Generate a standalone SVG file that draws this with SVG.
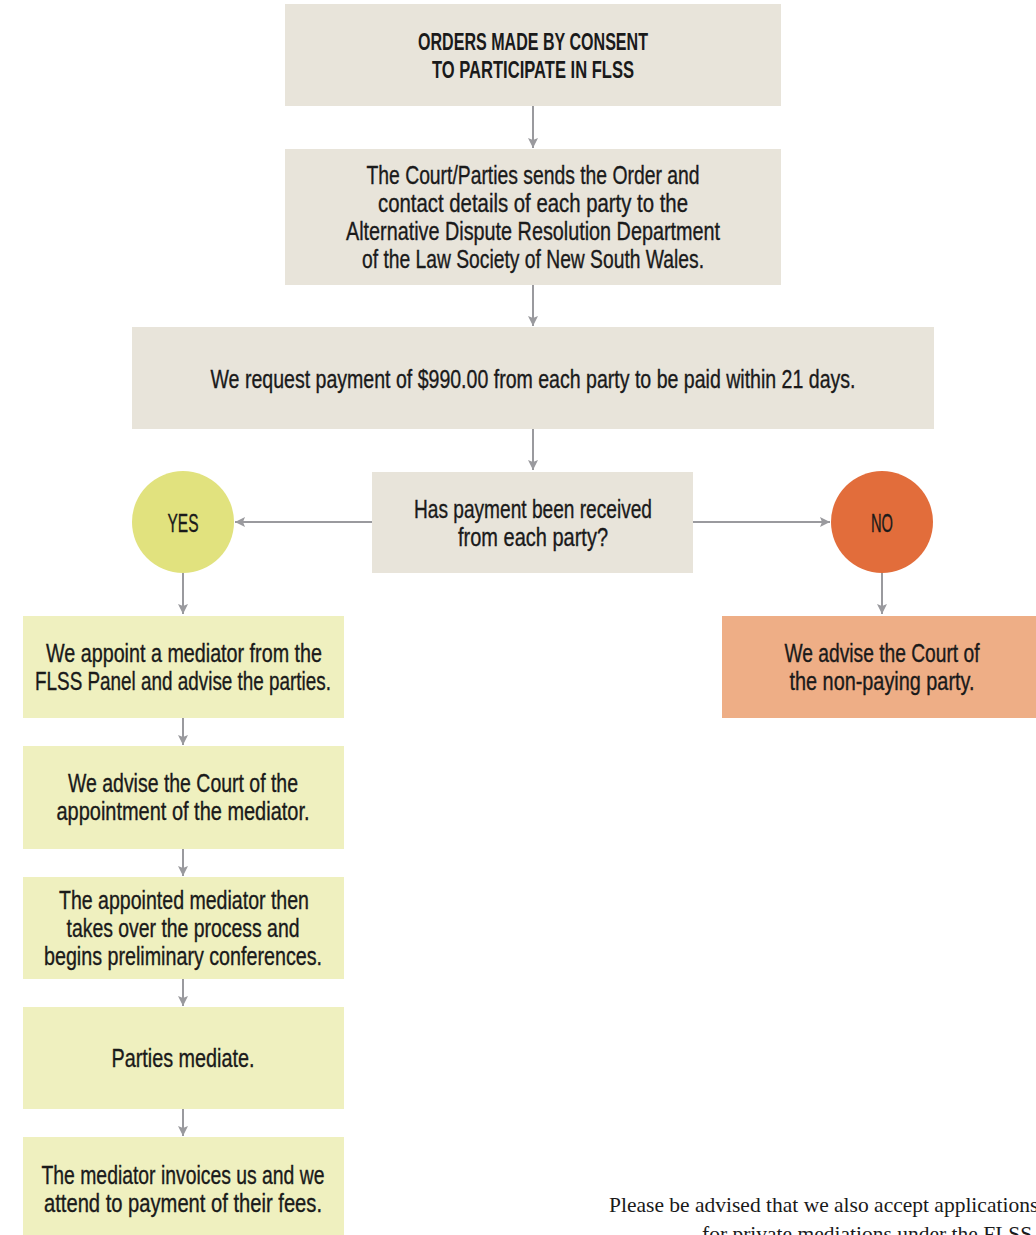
<svg xmlns="http://www.w3.org/2000/svg" width="1036" height="1235" viewBox="0 0 1036 1235">
<defs>
<marker id="ah" viewBox="0 0 10 10" refX="10" refY="5" markerWidth="10" markerHeight="10" markerUnits="userSpaceOnUse" orient="auto">
<path d="M0,0 L10,5 L0,10 L2,5 Z" fill="#9a9a9e"/>
</marker>
</defs>
<style>
.t{font-family:"Liberation Sans",Arial,sans-serif;font-size:25px;fill:#1a1a1a;stroke:#1a1a1a;stroke-width:0.35;text-anchor:middle;dominant-baseline:central}
.h{font-weight:bold;font-size:24px;stroke-width:0}
.beige{fill:#e8e4da}
.green{fill:#eff0bf}
.peach{fill:#eeae86}
.c{stroke:#9a9a9e;stroke-width:2;fill:none;marker-end:url(#ah)}
.note{font-family:"Liberation Serif","Times New Roman",serif;font-size:21.5px;fill:#1a1a1a}
</style>
<rect width="1036" height="1235" fill="#ffffff"/>
<g id="connectors">
<line class="c" x1="533" y1="106" x2="533" y2="148"/>
<line class="c" x1="533" y1="285" x2="533" y2="326"/>
<line class="c" x1="533" y1="429" x2="533" y2="470"/>
<line class="c" x1="372" y1="522" x2="235" y2="522"/>
<line class="c" x1="693" y1="522" x2="830" y2="522"/>
<line class="c" x1="882" y1="573" x2="882" y2="614"/>
<line class="c" x1="183" y1="573" x2="183" y2="614"/>
<line class="c" x1="183" y1="718" x2="183" y2="745"/>
<line class="c" x1="183" y1="849" x2="183" y2="876"/>
<line class="c" x1="183" y1="979" x2="183" y2="1006"/>
<line class="c" x1="183" y1="1109" x2="183" y2="1136"/>
</g>
<g id="n1"><rect class="beige" x="285" y="4" width="496" height="102"/>
<text class="t h" x="533" y="41" textLength="230" lengthAdjust="spacingAndGlyphs">ORDERS MADE BY CONSENT</text>
<text class="t h" x="533" y="69" textLength="202" lengthAdjust="spacingAndGlyphs">TO PARTICIPATE IN FLSS</text></g>
<g id="n2"><rect class="beige" x="285" y="149" width="496" height="136"/>
<text class="t" x="533" y="175" textLength="333" lengthAdjust="spacingAndGlyphs">The Court/Parties sends the Order and</text>
<text class="t" x="533" y="203" textLength="310" lengthAdjust="spacingAndGlyphs">contact details of each party to the</text>
<text class="t" x="533" y="231" textLength="374" lengthAdjust="spacingAndGlyphs">Alternative Dispute Resolution Department</text>
<text class="t" x="533" y="259" textLength="342" lengthAdjust="spacingAndGlyphs">of the Law Society of New South Wales.</text></g>
<g id="n3"><rect class="beige" x="132" y="327" width="802" height="102"/>
<text class="t" x="533" y="379" textLength="645" lengthAdjust="spacingAndGlyphs">We request payment of $990.00 from each party to be paid within 21 days.</text></g>
<g id="n4"><rect class="beige" x="372" y="472" width="321" height="101"/>
<text class="t" x="533" y="509" textLength="238" lengthAdjust="spacingAndGlyphs">Has payment been received</text>
<text class="t" x="533" y="537" textLength="150" lengthAdjust="spacingAndGlyphs">from each party?</text></g>
<g id="yes"><circle cx="183" cy="522" r="51" fill="#e1e27e"/>
<text class="t" x="183" y="523" textLength="31" lengthAdjust="spacingAndGlyphs">YES</text></g>
<g id="no"><circle cx="882" cy="522" r="51" fill="#e26d3b"/>
<text class="t" x="882" y="523" textLength="22" lengthAdjust="spacingAndGlyphs">NO</text></g>
<g id="n5"><rect class="peach" x="722" y="616" width="320" height="102"/>
<text class="t" x="882" y="653" textLength="195" lengthAdjust="spacingAndGlyphs">We advise the Court of</text>
<text class="t" x="882" y="681" textLength="185" lengthAdjust="spacingAndGlyphs">the non-paying party.</text></g>
<g id="g1"><rect class="green" x="23" y="616" width="321" height="102"/>
<text class="t" x="184" y="653" textLength="276" lengthAdjust="spacingAndGlyphs">We appoint a mediator from the</text>
<text class="t" x="183" y="681" textLength="296" lengthAdjust="spacingAndGlyphs">FLSS Panel and advise the parties.</text></g>
<g id="g2"><rect class="green" x="23" y="746" width="321" height="103"/>
<text class="t" x="183" y="783" textLength="230" lengthAdjust="spacingAndGlyphs">We advise the Court of the</text>
<text class="t" x="183" y="811" textLength="253" lengthAdjust="spacingAndGlyphs">appointment of the mediator.</text></g>
<g id="g3"><rect class="green" x="23" y="877" width="321" height="102"/>
<text class="t" x="184" y="900" textLength="250" lengthAdjust="spacingAndGlyphs">The appointed mediator then</text>
<text class="t" x="183" y="928" textLength="233" lengthAdjust="spacingAndGlyphs">takes over the process and</text>
<text class="t" x="183" y="956" textLength="278" lengthAdjust="spacingAndGlyphs">begins preliminary conferences.</text></g>
<g id="g4"><rect class="green" x="23" y="1007" width="321" height="102"/>
<text class="t" x="183" y="1058" textLength="143" lengthAdjust="spacingAndGlyphs">Parties mediate.</text></g>
<g id="g5"><rect class="green" x="23" y="1137" width="321" height="100"/>
<text class="t" x="183" y="1175" textLength="283" lengthAdjust="spacingAndGlyphs">The mediator invoices us and we</text>
<text class="t" x="183" y="1203" textLength="278" lengthAdjust="spacingAndGlyphs">attend to payment of their fees.</text></g>
<g id="note">
<text class="note" x="609" y="1212">Please be advised that we also accept applications</text>
<text class="note" x="702" y="1241">for private mediations under the FLSS.</text>
</g>
</svg>
